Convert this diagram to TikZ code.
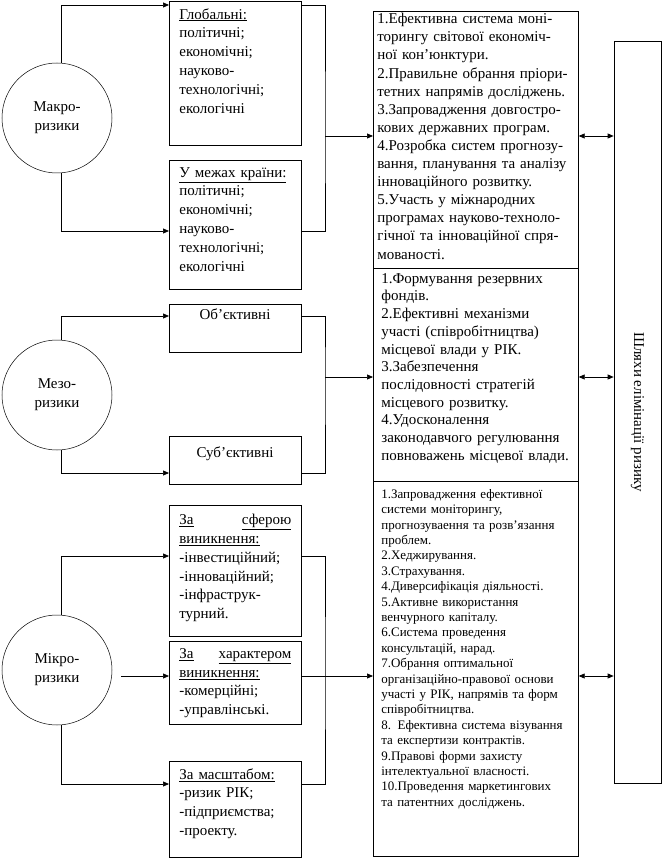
\documentclass[tikz,border=0pt]{standalone}
\usepackage{fontspec}
\setmainfont{Liberation Serif}
\usetikzlibrary{arrows.meta}
\newcommand\JA[1]{\makebox[193pt][s]{#1}}
\newcommand\JU[2]{\hbox to 112pt{\underline{#1}\hfill\underline{#2}}}
\begin{document}
\begin{tikzpicture}[x=1pt,y=-1pt,
  line width=0.7pt,
  box/.style={draw, rectangle, inner sep=0pt, anchor=north west},
  circ/.style={draw, circle, line width=0.5pt, minimum size=110pt, inner sep=0pt, align=center, font=\fontsize{15}{19}\selectfont},
  lbl/.style={anchor=north west, inner sep=0pt, text width=112pt, align=left, font=\fontsize{15}{18.8}\selectfont},
  sect/.style={anchor=north west, inner sep=0pt, align=left},
  arr/.style={-{Triangle[length=6pt,width=5pt]}},
  darr/.style={{Triangle[length=6pt,width=5pt]}-{Triangle[length=6pt,width=5pt]}},
]
\useasboundingbox (0,0) rectangle (662,858);

% circles
\node[circ] (macro) at (57,118) {Макро-\\ризики};
\node[circ] (meso) at (57,395) {Мезо-\\ризики};
\node[circ] (micro) at (57,670) {Мікро-\\ризики};

% left boxes
\node[box, minimum width=132pt, minimum height=144pt] (glob) at (169,1) {};
\node[lbl] (globt) at (179,8) {\underline{Глобальні:}\\політичні;\\економічні;\\науково-\\технологічні;\\екологічні};
\node[box, minimum width=132pt, minimum height=129pt] (cntry) at (169,160) {};
\node[lbl] (cntryt) at (179,167) {\underline{У межах країни:}\\політичні;\\економічні;\\науково-\\технологічні;\\екологічні};

\node[box, minimum width=132pt, minimum height=48pt] (obj) at (169,304) {};
\node[anchor=north, inner sep=0pt, font=\fontsize{15}{18}\selectfont] (objt) at (235,308) {Об’єктивні};
\node[box, minimum width=132pt, minimum height=48pt] (subj) at (169,436) {};
\node[anchor=north, inner sep=0pt, font=\fontsize{15}{18}\selectfont] (subjt) at (235,446) {Суб’єктивні};

\node[box, minimum width=132pt, minimum height=131pt] (sfer) at (169,505) {};
\node[lbl] (sfert) at (179,514) {\JU{За}{сферою}\\\underline{виникнення:}\\-інвестиційний;\\-інноваційний;\\-інфраструк-\\турний.};
\node[box, minimum width=132pt, minimum height=83pt] (char) at (169,641) {};
\node[lbl] (chart) at (179,648) {\JU{За}{характером}\\\underline{виникнення:}\\-комерційні;\\-управлінські.};
\node[box, minimum width=132pt, minimum height=96pt] (scale) at (169,761) {};
\node[lbl] (scalet) at (179,768) {\underline{За масштабом:}\\-ризик РІК;\\-підприємства;\\-проекту.};

% big box sections
\node[box, minimum width=205pt, minimum height=257pt] (sec1) at (373,11) {};
\node[box, minimum width=205pt, minimum height=213pt] (sec2) at (373,268) {};
\node[box, minimum width=205pt, minimum height=375pt] (sec3) at (373,481) {};

\node[sect, text width=193pt, font=\fontsize{15}{18.1}\selectfont] (s1t) at (377,13) {%
\JA{1.Ефективна система моні-}\\
\JA{торингу світової економіч-}\\
ної кон’юнктури.\\
\JA{2.Правильне обрання пріори-}\\
тетних напрямів досліджень.\\
\JA{3.Запровадження довгостро-}\\
кових державних програм.\\
\JA{4.Розробка систем прогнозу-}\\
\JA{вання, планування та аналізу}\\
інноваційного розвитку.\\
\JA{5.Участь у міжнародних}\\
\JA{програмах науково-техноло-}\\
\JA{гічної та інноваційної спря-}\\
мованості.};

\node[sect, text width=193pt, font=\fontsize{15}{17.7}\selectfont] (s2t) at (381,273) {%
1.Формування резервних\\
фондів.\\
2.Ефективні механізми\\
участі (співробітництва)\\
місцевої влади у РІК.\\
3.Забезпечення\\
послідовності стратегій\\
місцевого розвитку.\\
4.Удосконалення\\
законодавчого регулювання\\
повноважень місцевої влади.};

\node[sect, text width=193pt, font=\fontsize{13}{15.4}\selectfont] (s3t) at (381,489) {%
1.Запровадження ефективної\\
системи моніторингу,\\
прогнозуваення та розв’язання\\
проблем.\\
2.Хеджирування.\\
3.Страхування.\\
4.Диверсифікація діяльності.\\
5.Активне використання\\
венчурного капіталу.\\
6.Система проведення\\
консультацій, нарад.\\
7.Обрання оптимальної\\
організаційно-правової основи\\
участі у РІК, напрямів та форм\\
співробітництва.\\
8. Ефективна система візування\\
та експертизи контрактів.\\
9.Правові форми захисту\\
інтелектуальної власності.\\
10.Проведення маркетингових\\
та патентних досліджень.};

% vertical box
\node[draw, rectangle, inner sep=0pt, minimum width=47pt, minimum height=742pt, font=\fontsize{15}{18}\selectfont] (way) at (637.5,412) {\rotatebox{-90}{Шляхи елімінації ризику}};

% junctions
\coordinate (j1) at (325,136);
\coordinate (j2) at (325,377);
\coordinate (j3) at (325,676);
\coordinate (m0) at (121,676);

% macro connectors
\draw[arr] ([xshift=4pt]macro.north) |- ([yshift=-4pt]glob.north west);
\draw[arr] ([xshift=4pt]macro.south) |- ([yshift=-71pt]cntry.north west);
\draw ([yshift=-4pt]glob.north east) -| (j1) |- ([yshift=-71pt]cntry.north east);
\draw[arr] (j1) -- (sec1.west |- j1);
\draw[darr] (sec1.east |- j1) -- (way.west |- j1);

% meso connectors
\draw[arr] ([xshift=4pt]meso.north) |- ([yshift=-12pt]obj.north west);
\draw[arr] ([xshift=4pt]meso.south) |- ([yshift=-37pt]subj.north west);
\draw ([yshift=-12pt]obj.north east) -| (j2) |- ([yshift=-37pt]subj.north east);
\draw[arr] (j2) -- (sec2.west |- j2);
\draw[darr] (sec2.east |- j2) -- (way.west |- j2);

% micro connectors
\draw[arr] ([xshift=4pt]micro.north) |- ([yshift=-51pt]sfer.north west);
\draw[arr] (m0) -- ([yshift=-35pt]char.north west);
\draw[arr] ([xshift=4pt]micro.south) |- ([yshift=-23pt]scale.north west);
\draw ([yshift=-51pt]sfer.north east) -| (j3) |- ([yshift=-23pt]scale.north east);
\draw[arr] ([yshift=-35pt]char.north east) -- (sec3.west |- j3);
\draw[darr] (sec3.east |- j3) -- (way.west |- j3);
\end{tikzpicture}
\end{document}
